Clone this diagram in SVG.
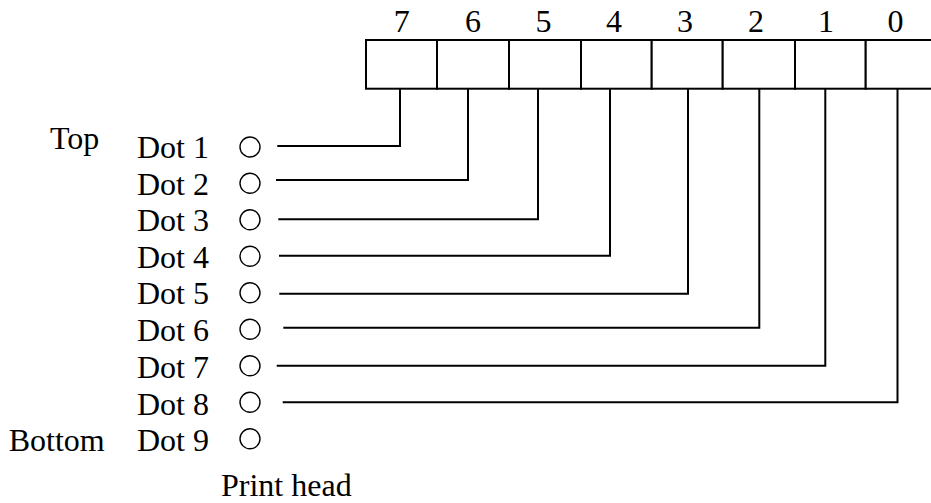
<svg xmlns="http://www.w3.org/2000/svg" width="931" height="503" viewBox="0 0 931 503">
<style>
text{font-family:"Liberation Serif","Times New Roman",serif;font-size:32px;fill:#000}
.d{text-anchor:middle}
.cell{fill:#fff;stroke:#000;stroke-width:2}
.dot{fill:none;stroke:#000;stroke-width:1.4}
.w{fill:none;stroke:#000;stroke-width:2}
</style>
<rect width="931" height="503" fill="#fff"/>
<g id="register">
<rect class="cell" x="366" y="40" width="71" height="48.7"/>
<rect class="cell" x="437" y="40" width="72" height="48.7"/>
<rect class="cell" x="509" y="40" width="72" height="48.7"/>
<rect class="cell" x="581" y="40" width="70.7" height="48.7"/>
<rect class="cell" x="651.7" y="40" width="71" height="48.7"/>
<rect class="cell" x="722.7" y="40" width="72.3" height="48.7"/>
<rect class="cell" x="795" y="40" width="70.7" height="48.7"/>
<rect class="cell" x="865.7" y="40" width="72" height="48.7"/>
<text class="d" x="401.7" y="32">7</text>
<text class="d" x="473" y="32">6</text>
<text class="d" x="543.5" y="32">5</text>
<text class="d" x="614" y="32">4</text>
<text class="d" x="685" y="32">3</text>
<text class="d" x="756" y="32">2</text>
<text class="d" x="826" y="32">1</text>
<text class="d" x="895.5" y="32">0</text>
</g>
<g id="labels">
<text x="50" y="149">Top</text>
<text x="8.7" y="451">Bottom</text>
<text x="221" y="495.5">Print head</text>
</g>
<g id="head">
<g id="dot1"><text x="137" y="158">Dot 1</text><circle class="dot" cx="250" cy="147" r="10"/></g>
<g id="dot2"><text x="137" y="194.5">Dot 2</text><circle class="dot" cx="250" cy="183.3" r="10"/></g>
<g id="dot3"><text x="137" y="231">Dot 3</text><circle class="dot" cx="250" cy="219.8" r="10"/></g>
<g id="dot4"><text x="137" y="267.5">Dot 4</text><circle class="dot" cx="250" cy="256.3" r="10"/></g>
<g id="dot5"><text x="137" y="304">Dot 5</text><circle class="dot" cx="250" cy="292.8" r="10"/></g>
<g id="dot6"><text x="137" y="340.5">Dot 6</text><circle class="dot" cx="250" cy="329.3" r="10"/></g>
<g id="dot7"><text x="137" y="377.5">Dot 7</text><circle class="dot" cx="250" cy="365.8" r="10"/></g>
<g id="dot8"><text x="137" y="414.5">Dot 8</text><circle class="dot" cx="250" cy="402.3" r="10"/></g>
<g id="dot9"><text x="137" y="451">Dot 9</text><circle class="dot" cx="250" cy="438.8" r="10"/></g>
</g>
<g id="connectors">
<polyline class="w" points="277.3,146 400,146 400,88.7"/>
<polyline class="w" points="276,180 468,180 468,88.7"/>
<polyline class="w" points="278.3,219.3 538,219.3 538,88.7"/>
<polyline class="w" points="279,255.7 610,255.7 610,88.7"/>
<polyline class="w" points="279.3,293.7 688,293.7 688,88.7"/>
<polyline class="w" points="283.3,327.7 759.3,327.7 759.3,88.7"/>
<polyline class="w" points="276.7,365.7 825.3,365.7 825.3,88.7"/>
<polyline class="w" points="282.7,402.3 897.5,402.3 897.5,88.7"/>
</g>
</svg>
